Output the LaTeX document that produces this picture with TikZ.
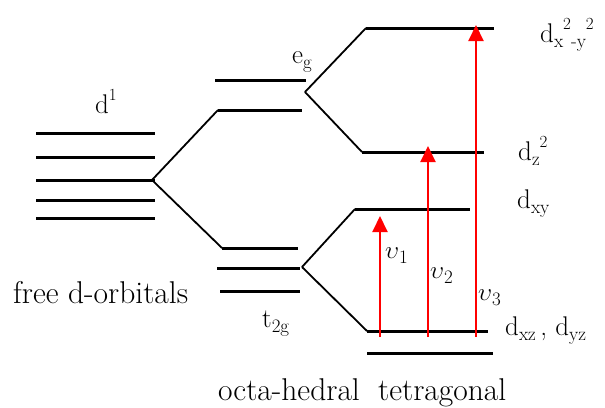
\documentclass[tikz,border=0pt]{standalone}
\usetikzlibrary{arrows.meta}
\newcommand\mysb[1]{\raisebox{-0.22em}{\fontsize{19}{19}\selectfont #1}}
\newcommand\mysp[1]{\raisebox{0.45em}{\fontsize{17}{17}\selectfont #1}}
\newcommand\myups{\ensuremath{\upsilon}}
\begin{document}
\begin{tikzpicture}[x=1pt,y=-1pt,
  level/.style={line width=3pt},
  conn/.style={line width=1.8pt},
  trans/.style={red,line width=2pt,-{Triangle[width=15pt,length=16pt]}},
  lbl/.style={inner sep=0pt,anchor=base west,font=\fontsize{27}{27}\selectfont},
  vlbl/.style={inner sep=0pt,anchor=base west,font=\fontsize{25}{25}\selectfont},
  captxt/.style={inner sep=0pt,anchor=base west,font=\fontsize{31.5}{31.5}\selectfont}]
\useasboundingbox (0,0) rectangle (605,407);
% free ion levels
\foreach \yy/\nm in {133/f1,157/f2,180/f3,200/f4,218/f5}{
  \coordinate (\nm l) at (36,\yy); \coordinate (\nm r) at (155,\yy);
  \draw[level] (\nm l) -- (\nm r);}
\coordinate (fb) at (152,180);
% octahedral
\coordinate (e1l) at (215,80); \coordinate (e1r) at (306,80);
\coordinate (e2l) at (218,110); \coordinate (e2r) at (302,110);
\coordinate (t1l) at (222,248); \coordinate (t1r) at (298,248);
\coordinate (t2l) at (217,268); \coordinate (t2r) at (300,268);
\coordinate (t3l) at (220,291); \coordinate (t3r) at (300,291);
\foreach \nm in {e1,e2,t1,t2,t3}{\draw[level] (\nm l) -- (\nm r);}
\coordinate (eb) at (305,92);
\coordinate (tb) at (302,267);
% tetragonal
\coordinate (axl) at (366,28); \coordinate (axr) at (494,28);
\coordinate (azl) at (362,152); \coordinate (azr) at (484,152);
\coordinate (bxl) at (355,209); \coordinate (bxr) at (470,209);
\coordinate (bzl) at (367,331); \coordinate (bzr) at (488,331);
\coordinate (bwl) at (367,353); \coordinate (bwr) at (493,353);
\foreach \nm in {ax,az,bx,bz,bw}{\draw[level] (\nm l) -- (\nm r);}
% connectors
\draw[conn] (fb) -- (e2l);
\draw[conn] (fb) -- (t1l);
\draw[conn] (eb) -- (axl);
\draw[conn] (eb) -- (azl);
\draw[conn] (tb) -- (bxl);
\draw[conn] (tb) -- (bzl);
% transitions
\coordinate (u1s) at (380,337); \coordinate (u1e) at (380,216);
\coordinate (u2s) at (428,337); \coordinate (u2e) at (428,146);
\coordinate (u3s) at (476,337); \coordinate (u3e) at (476,25);
\draw[trans] (u1s) -- (u1e);
\draw[trans] (u2s) -- (u2e);
\draw[trans] (u3s) -- (u3e);
% labels
\node[lbl] (ld) at (95,113) {d\mysp{1}};
\node[lbl] (leg) at (292,63) {e\mysb{g}};
\node[lbl] (lt) at (262,327) {t\mysb{2g}};
\node[lbl] (lx2) at (540,42) {d\mysb{x}\mysp{2}\mysb{-y}\mysp{2}};
\node[lbl] (lz2) at (518,160) {d\mysb{z}\mysp{2}};
\node[lbl] (lxy) at (517,208) {d\mysb{xy}};
\node[lbl] (lxz) at (505,335) {d\mysb{xz}\,, d\mysb{yz}};
\node[vlbl] (v1) at (385,258) {\myups\mysb{1}};
\node[vlbl] (v2) at (430,278) {\myups\mysb{2}};
\node[vlbl] (v3) at (478,300) {\myups\mysb{3}};
\node[captxt] (cfree) at (13,303) {free d-orbitals};
\node[captxt] (coct) at (218,400) {octa-hedral};
\node[captxt] (ctet) at (378,400) {tetragonal};
\end{tikzpicture}
\end{document}
